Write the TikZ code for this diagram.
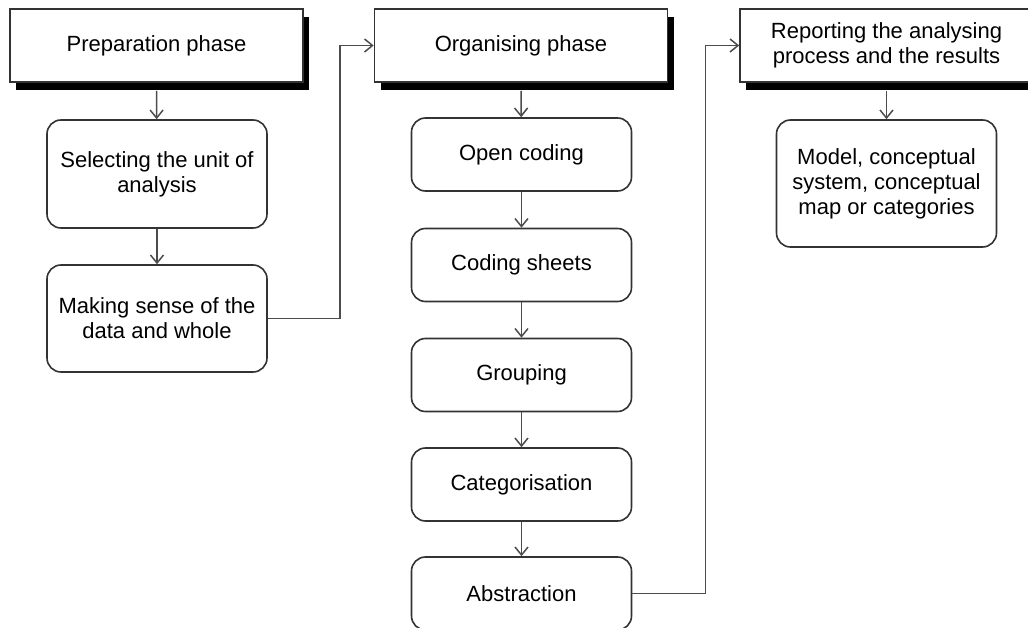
\documentclass[tikz,border=0pt]{standalone}
\usepackage{fontspec}
\setmainfont{Liberation Sans}
\usetikzlibrary{arrows.meta,shadows}

\begin{document}
\begin{tikzpicture}[x=1pt,y=-1pt,
		font=\fontsize{22}{25}\selectfont,
		phase/.style={draw=black!80, line width=1.6pt, fill=white, align=center, inner sep=0pt,
			minimum width=293pt, minimum height=73pt,
			drop shadow={shadow xshift=6pt, shadow yshift=-8pt, fill=black, opacity=1}},
		stepbox/.style={draw=black!80, line width=1.6pt, fill=white, rounded corners=14pt,
			align=center, inner sep=0pt, minimum width=220pt},
		link/.style={draw=black!70, line width=1.5pt, -{Straight Barb[length=8pt,width=13pt]}}]
		\useasboundingbox (0,0) rectangle (1028,628);
		%Phases
		\node[phase] (H1) at (156.5,45.5) {Preparation phase};
		\node[phase] (H2) at (521,45.5) {Organising phase};
		\node[phase] (H3) at (886.5,45.5) {Reporting the analysing\\process and the results};
		%Steps of the first phase
		\node[stepbox, minimum height=108pt] (B11) at (157,174) {Selecting the unit of\\analysis};
		\node[stepbox, minimum height=107pt] (B12) at (157,318.5) {Making sense of the\\data and whole};
		%Steps of the second phase
		\node[stepbox, minimum height=73pt] (B21) at (521.5,154.5) {Open coding};
		\node[stepbox, minimum height=73pt] (B22) at (521.5,265) {Coding sheets};
		\node[stepbox, minimum height=73pt] (B23) at (521.5,375) {Grouping};
		\node[stepbox, minimum height=73pt] (B24) at (521.5,484.5) {Categorisation};
		\node[stepbox, minimum height=73pt] (B25) at (521.5,593.5) {Abstraction};
		%Result of the third phase
		\node[stepbox, minimum height=127pt] (B31) at (886.5,183.5) {Model, conceptual\\system, conceptual\\map or categories};
		%Arrows
		\draw[link] ([yshift=-8pt]H1.south) -- (B11);
		\draw[link] (B11) -- (B12);
		\draw[link] (B12.east) -- ++(72,0) |- (H2.west);
		\draw[link] ([yshift=-8pt]H2.south) -- (B21);
		\draw[link] (B21) -- (B22);
		\draw[link] (B22) -- (B23);
		\draw[link] (B23) -- (B24);
		\draw[link] (B24) -- (B25);
		\draw[link] (B25.east) -- ++(73,0) |- (H3.west);
		\draw[link] ([yshift=-8pt]H3.south) -- (B31);
	\end{tikzpicture}
\end{document}
